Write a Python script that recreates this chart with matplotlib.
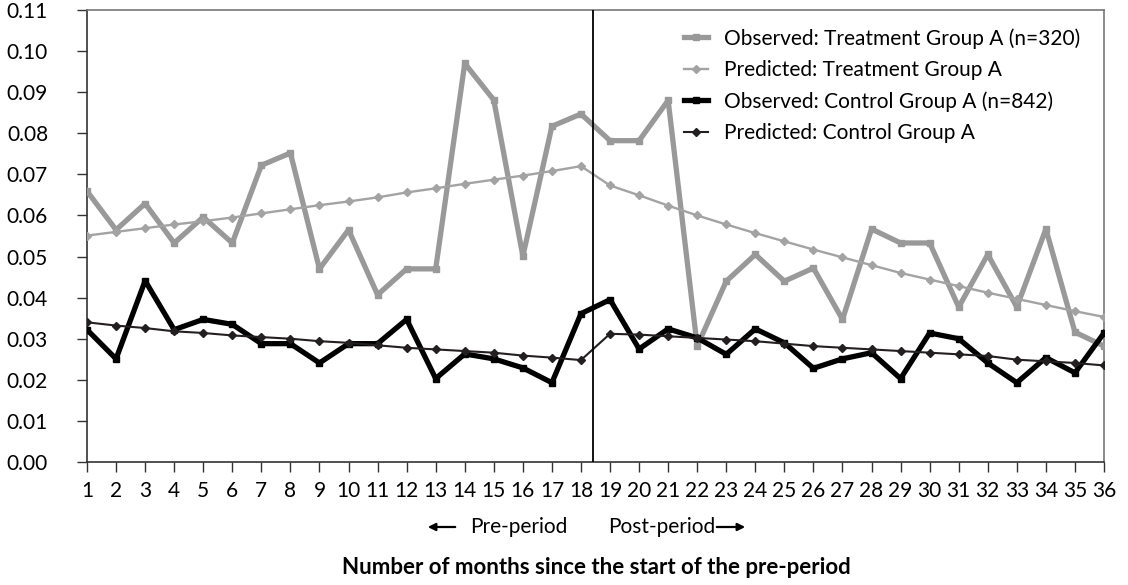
import matplotlib
matplotlib.use("Agg")
import matplotlib.pyplot as plt
import numpy as np

plt.rcParams['font.family'] = ['Lato', 'DejaVu Sans']

months = list(range(1, 37))
obs_treat = [0.0659, 0.0565, 0.0629, 0.0533, 0.0596, 0.0533, 0.0722, 0.0752, 0.0470, 0.0565,
             0.0407, 0.0470, 0.0470, 0.0970, 0.0881, 0.0501, 0.0817, 0.0847, 0.0782, 0.0782,
             0.0880, 0.0282, 0.0440, 0.0505, 0.0440, 0.0472, 0.0347, 0.0567, 0.0533, 0.0533,
             0.0377, 0.0505, 0.0377, 0.0567, 0.0316, 0.0282]
pred_treat = [0.0551, 0.0560, 0.0569, 0.0578, 0.0586, 0.0595, 0.0605, 0.0615, 0.0625, 0.0634,
              0.0644, 0.0656, 0.0666, 0.0677, 0.0687, 0.0697, 0.0708, 0.0720, 0.0673, 0.0649,
              0.0624, 0.0600, 0.0578, 0.0557, 0.0537, 0.0517, 0.0498, 0.0479, 0.0460, 0.0444,
              0.0428, 0.0412, 0.0397, 0.0382, 0.0367, 0.0353]
obs_ctrl = [0.0322, 0.0251, 0.0441, 0.0322, 0.0347, 0.0335, 0.0288, 0.0288, 0.0241, 0.0288,
            0.0288, 0.0347, 0.0203, 0.0263, 0.0251, 0.0229, 0.0193, 0.0361, 0.0395, 0.0275,
            0.0324, 0.0302, 0.0262, 0.0324, 0.0290, 0.0228, 0.0251, 0.0266, 0.0203, 0.0314,
            0.0300, 0.0241, 0.0193, 0.0254, 0.0217, 0.0314]
pred_ctrl = [0.0340, 0.0332, 0.0326, 0.0318, 0.0314, 0.0308, 0.0304, 0.0300, 0.0294, 0.0290,
             0.0284, 0.0278, 0.0274, 0.0270, 0.0266, 0.0259, 0.0254, 0.0248, 0.0312, 0.0310,
             0.0306, 0.0302, 0.0298, 0.0294, 0.0288, 0.0282, 0.0278, 0.0274, 0.0270, 0.0266,
             0.0262, 0.0258, 0.0249, 0.0245, 0.0241, 0.0235]
labels = ["Observed: Treatment Group A (n=320)", "Predicted: Treatment Group A",
          "Observed: Control Group A (n=842)", "Predicted: Control Group A"]
yticks = [i / 100 for i in range(0, 12)]
break_x = 18.42

W, H = 1128, 585
fig = plt.figure(figsize=(W / 100, H / 100), dpi=100)
ax = fig.add_axes([87/W, 123/H, (1104-87)/W, (462-10)/H])

gray_obs = '#999999'
gray_pred = '#a3a3a3'
ax.plot(months, obs_treat, color=gray_obs, lw=3.8, marker='s', ms=5, label=labels[0], zorder=3)
ax.plot(months, pred_treat, color=gray_pred, lw=1.7, marker='D', ms=4.5, label=labels[1], zorder=3)
ax.plot(months, obs_ctrl, color='#000000', lw=3.8, marker='s', ms=4, label=labels[2], zorder=4)
ax.plot(months, pred_ctrl, color='#231f20', lw=1.5, marker='D', ms=4.5, label=labels[3], zorder=4)

ax.axvline(break_x, color='black', lw=1.3, zorder=5)

fs = 15
ax.set_xlim(1, 36)
ax.set_ylim(0, 0.11)
ax.set_xticks(months)
ax.set_xticklabels([str(m) for m in months])
ax.set_yticks(yticks)
ax.set_yticklabels([f"{v:.2f}" for v in yticks])
ax.tick_params(axis='both', labelsize=fs, length=7, width=1, color='#333333', direction='out')
ax.tick_params(axis='x', pad=7)
ax.tick_params(axis='y', pad=21)
for s in ['left', 'bottom']:
    ax.spines[s].set_color('#333333')
    ax.spines[s].set_linewidth(1.2)
for s in ['top', 'right']:
    ax.spines[s].set_color('#777777')
    ax.spines[s].set_linewidth(1.2)

leg = ax.legend(loc='upper left', bbox_to_anchor=(684/W, 1 - 28/H), bbox_transform=fig.transFigure,
                frameon=False, fontsize=fs, handlelength=1.15, handletextpad=0.75,
                labelspacing=0.54, borderaxespad=0, borderpad=0)

# Period labels with arrows
yp = 1 - 527/H
fig.text(470/W, yp, "Pre-period", ha='left', va='center', fontsize=fs)
fig.text(608/W, yp, "Post-period", ha='left', va='center', fontsize=fs)
fig.add_artist(matplotlib.patches.FancyArrowPatch((458/W, yp), (425/W, yp),
               transform=fig.transFigure, arrowstyle='-|>', mutation_scale=11, lw=1.6, color='black'))
fig.add_artist(matplotlib.patches.FancyArrowPatch((714/W, yp), (748/W, yp),
               transform=fig.transFigure, arrowstyle='-|>', mutation_scale=11, lw=1.6, color='black'))

fig.text(596/W, 1 - 568/H, "Number of months since the start of the pre-period",
         ha='center', va='center', fontsize=16, fontweight='bold')

fig.savefig("out.png", dpi=100)
